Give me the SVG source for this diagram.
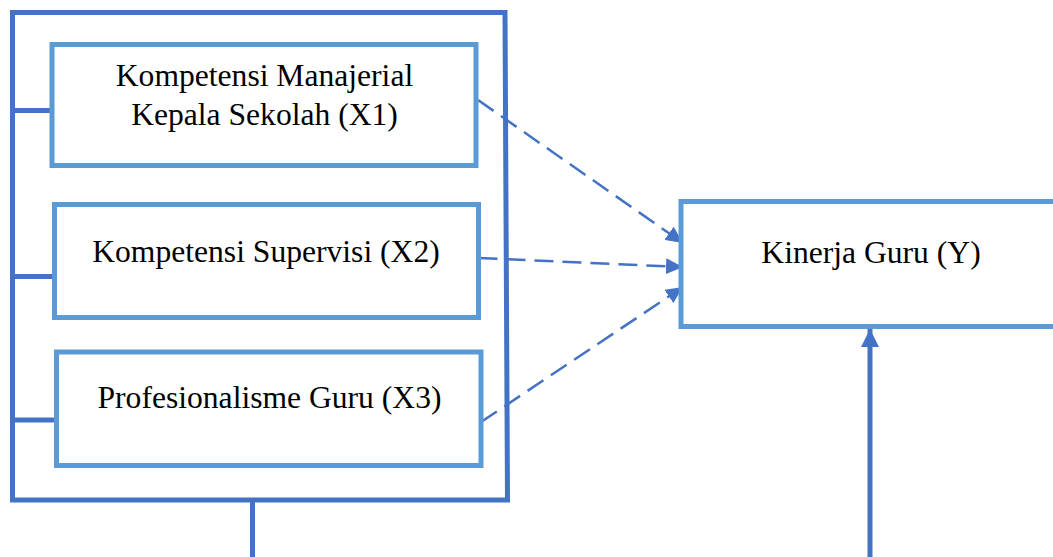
<svg xmlns="http://www.w3.org/2000/svg" width="1053" height="557" viewBox="0 0 1053 557">
<style>
.frame{fill:none;stroke:#4472C4;stroke-width:5}
.box{fill:#FFFFFF;stroke:#5B9BD5;stroke-width:5}
.tick{stroke:#4472C4;stroke-width:5;fill:none}
.dash{stroke:#4472C4;stroke-width:2.5;fill:none;stroke-dasharray:19 9}
.solid{stroke:#4472C4;stroke-width:5;fill:none}
.lbl{font-family:"Liberation Serif","Times New Roman",serif;font-size:31.6px;fill:#000;text-anchor:middle}
</style>
<defs>
<marker id="ah" markerUnits="userSpaceOnUse" markerWidth="17" markerHeight="16" refX="17" refY="8" orient="auto">
<path d="M0,0 L17,8 L0,16 z" fill="#4472C4"/>
</marker>
<marker id="ahb" markerUnits="userSpaceOnUse" markerWidth="18" markerHeight="18" refX="18" refY="9" orient="auto">
<path d="M0,0 L18,9 L0,18 z" fill="#4472C4"/>
</marker>
</defs>
<g id="frame">
<path class="frame" d="M12.5,12.5 L505,12.5 L507.5,500 L12.5,500 Z"/>
</g>
<g id="connectors">
<line class="tick" x1="12.5" y1="110.5" x2="52" y2="110.5"/>
<line class="tick" x1="12.5" y1="276.5" x2="54.5" y2="276.5"/>
<line class="tick" x1="12.5" y1="420" x2="56.5" y2="420"/>
<line class="solid" x1="252.5" y1="500" x2="252.5" y2="557"/>
<line class="dash" x1="478" y1="100" x2="683" y2="243" marker-end="url(#ah)"/>
<line class="dash" x1="478.5" y1="258" x2="683" y2="267" marker-end="url(#ah)"/>
<line class="dash" x1="481" y1="422" x2="683" y2="287" marker-end="url(#ah)"/>
<line class="solid" x1="870" y1="557" x2="870" y2="329" marker-end="url(#ahb)"/>
</g>
<g id="node-x1">
<rect class="box" x="52" y="44.5" width="424" height="121"/>
<text class="lbl" x="264.5" y="86">Kompetensi Manajerial</text>
<text class="lbl" x="264.5" y="125">Kepala Sekolah (X1)</text>
</g>
<g id="node-x2">
<rect class="box" x="54.5" y="204.5" width="424" height="113"/>
<text class="lbl" x="266" y="262">Kompetensi Supervisi (X2)</text>
</g>
<g id="node-x3">
<rect class="box" x="56.5" y="352" width="424.5" height="113.5"/>
<text class="lbl" x="269.5" y="408">Profesionalisme Guru (X3)</text>
</g>
<g id="node-y">
<rect class="box" x="681" y="201.5" width="380" height="125"/>
<text class="lbl" x="871" y="263">Kinerja Guru (Y)</text>
</g>
</svg>
